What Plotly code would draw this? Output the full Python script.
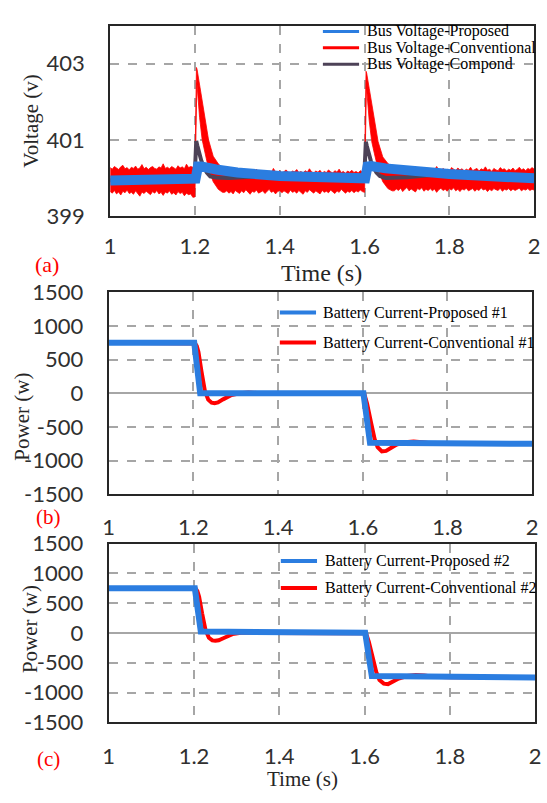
import numpy as np
import plotly.graph_objects as go

W, H = 547, 803

# ---------------- Panel (a): DC bus voltage ----------------
names_a = ["Bus Voltage-Proposed", "Bus Voltage-Conventional", "Bus Voltage-Compond"]

# Proposed controller (blue)
t_prop = [1.0, 1.1, 1.2, 1.2015, 1.207, 1.215, 1.25, 1.3, 1.4, 1.5, 1.6,
          1.6015, 1.607, 1.615, 1.65, 1.7, 1.8, 1.9, 2.0]
v_prop = [399.93, 399.95, 399.97, 399.98, 400.30, 400.30, 400.22, 400.14, 400.05,
          400.00, 399.98, 399.99, 400.30, 400.31, 400.25, 400.19, 400.10, 400.04, 399.99]

# Compound controller (dark)
t_comp = [1.0, 1.2, 1.2008, 1.203, 1.2055, 1.21, 1.215, 1.22, 1.228, 1.236, 1.25, 1.28,
          1.32, 1.36, 1.4, 1.5, 1.6, 1.6008, 1.603, 1.6055, 1.61, 1.615, 1.62, 1.628,
          1.636, 1.65, 1.7, 1.75, 1.8, 1.9, 2.0]
v_comp = [399.94, 399.96, 400.40, 400.97, 400.85, 400.62, 400.45, 400.30, 400.14, 400.04,
          400.01, 400.00, 400.02, 400.05, 400.03, 399.99, 399.97, 400.40, 400.95, 400.83,
          400.60, 400.44, 400.30, 400.14, 400.05, 400.00, 400.02, 400.07, 400.09, 400.03, 399.98]

# Conventional controller (red): ripple band given by its upper / lower envelope,
# sampled every 5 ms in the steady stretches
up_noise1 = [400.27, 400.23, 400.30, 400.25, 400.22, 400.29, 400.33, 400.24, 400.27, 400.21,
             400.28, 400.25, 400.31, 400.23, 400.26, 400.35, 400.24, 400.28, 400.22, 400.27,
             400.30, 400.25, 400.23, 400.29, 400.26, 400.37, 400.25, 400.28, 400.24, 400.30,
             400.27, 400.23, 400.32, 400.26, 400.29, 400.24, 400.36, 400.27, 400.30, 400.28]
lo_noise1 = [399.64, 399.60, 399.67, 399.58, 399.63, 399.55, 399.65, 399.61, 399.68, 399.59,
             399.62, 399.57, 399.66, 399.60, 399.52, 399.63, 399.59, 399.65, 399.61, 399.56,
             399.64, 399.60, 399.67, 399.58, 399.62, 399.54, 399.63, 399.60, 399.66, 399.57,
             399.61, 399.55, 399.64, 399.59, 399.62, 399.53, 399.60, 399.56, 399.58, 399.49]

t_up_step1 = [1.200, 1.2035, 1.205, 1.211, 1.217, 1.223, 1.232, 1.243, 1.255, 1.265]
v_up_step1 = [400.30, 402.90, 402.85, 402.44, 402.00, 401.58, 401.00, 400.57, 400.37, 400.26]
t_lo_step1 = [1.200, 1.201, 1.2045, 1.206, 1.211, 1.217, 1.223, 1.232, 1.243, 1.255, 1.265]
v_lo_step1 = [399.50, 400.30, 402.50, 402.20, 401.58, 401.00, 400.70, 400.24, 399.90, 399.70, 399.62]

up_noise2 = [400.22, 400.17, 400.20, 400.14, 400.18, 400.24, 400.15, 400.19, 400.13, 400.17,
             400.21, 400.15, 400.18, 400.12, 400.16, 400.23, 400.14, 400.17, 400.11, 400.19,
             400.15, 400.18, 400.13, 400.25, 400.16, 400.14, 400.19, 400.12, 400.17, 400.21,
             400.15, 400.13, 400.18, 400.16, 400.22, 400.14, 400.17, 400.12, 400.19, 400.15,
             400.24, 400.16, 400.13, 400.18, 400.15, 400.20, 400.12, 400.17, 400.14, 400.21,
             400.16, 400.13, 400.19, 400.15, 400.23, 400.14, 400.17, 400.12, 400.18, 400.15,
             400.20, 400.14, 400.17, 400.13, 400.19, 400.16]
lo_noise2 = [399.62, 399.66, 399.60, 399.64, 399.58, 399.67, 399.63, 399.59, 399.66, 399.61,
             399.69, 399.63, 399.57, 399.65, 399.62, 399.68, 399.60, 399.64, 399.66, 399.59,
             399.63, 399.70, 399.62, 399.65, 399.58, 399.64, 399.67, 399.61, 399.66, 399.63,
             399.59, 399.68, 399.62, 399.65, 399.60, 399.67, 399.63, 399.57, 399.66, 399.62,
             399.69, 399.64, 399.60, 399.66, 399.63, 399.58, 399.67, 399.62, 399.65, 399.61,
             399.68, 399.63, 399.59, 399.66, 399.62, 399.70, 399.64, 399.60, 399.65, 399.62,
             399.67, 399.61, 399.66, 399.63, 399.68, 399.64]

t_up_step2 = [1.600, 1.6035, 1.605, 1.611, 1.617, 1.623, 1.632, 1.643, 1.655, 1.665]
v_up_step2 = [400.22, 402.80, 402.75, 402.35, 401.92, 401.50, 400.95, 400.55, 400.38, 400.28]
t_lo_step2 = [1.600, 1.601, 1.6045, 1.606, 1.611, 1.617, 1.623, 1.632, 1.643, 1.655, 1.665]
v_lo_step2 = [399.62, 400.25, 402.40, 402.10, 401.50, 400.95, 400.65, 400.22, 399.90, 399.72, 399.66]

up_noise3 = [400.26, 400.20, 400.24, 400.18, 400.28, 400.21, 400.19, 400.25, 400.17, 400.23,
             400.29, 400.20, 400.22, 400.18, 400.27, 400.21, 400.24, 400.17, 400.23, 400.20,
             400.30, 400.21, 400.18, 400.25, 400.20, 400.23, 400.16, 400.27, 400.22, 400.19,
             400.26, 400.21, 400.24, 400.18, 400.23, 400.20, 400.28, 400.19, 400.22, 400.25,
             400.18, 400.24, 400.21, 400.29, 400.20, 400.23, 400.17, 400.25, 400.21, 400.19,
             400.27, 400.22, 400.24, 400.18, 400.23, 400.20, 400.26, 400.19, 400.22, 400.28,
             400.21, 400.24, 400.19, 400.25, 400.22, 400.27, 400.23]
lo_noise3 = [399.66, 399.71, 399.67, 399.73, 399.64, 399.70, 399.75, 399.66, 399.71, 399.68,
             399.63, 399.72, 399.69, 399.74, 399.65, 399.70, 399.67, 399.72, 399.66, 399.71,
             399.62, 399.69, 399.73, 399.67, 399.70, 399.65, 399.72, 399.68, 399.74, 399.66,
             399.70, 399.64, 399.71, 399.68, 399.73, 399.66, 399.69, 399.72, 399.65, 399.70,
             399.67, 399.74, 399.68, 399.71, 399.64, 399.70, 399.66, 399.72, 399.69, 399.67,
             399.73, 399.65, 399.70, 399.68, 399.72, 399.66, 399.71, 399.67, 399.69, 399.73,
             399.66, 399.70, 399.68, 399.72, 399.67, 399.70, 399.68]

# start time of each steady ripple stretch and its sample step (s)
noise_starts = [1.00, 1.27, 1.67]
noise_step = 0.005

# ---------------- Panels (b), (c): battery power ----------------
names_b = ["Battery Current-Proposed #1", "Battery Current-Conventional #1"]
names_c = ["Battery Current-Proposed #2", "Battery Current-Conventional #2"]

t_b_prop = [1.0, 1.202, 1.216, 1.4, 1.6, 1.6015, 1.617, 1.8, 2.0]
p_b_prop = [750, 750, 0, 0, 0, 0, -735, -745, -750]
t_b_conv = [1.0, 1.2, 1.204, 1.208, 1.212, 1.219, 1.227, 1.235, 1.243, 1.25, 1.258, 1.27,
            1.28, 1.29, 1.31, 1.33, 1.35, 1.38, 1.45, 1.55, 1.6, 1.604, 1.61, 1.62, 1.628,
            1.635, 1.645, 1.655, 1.665, 1.68, 1.7, 1.72, 1.74, 1.76, 1.8, 2.0]
p_b_conv = [750, 750, 740, 700, 610, 325, 40, -95, -140, -148, -135, -90,
            -55, -25, 0, 10, 5, -5, -10, -8, -5, -20, -150, -450, -680,
            -800, -862, -855, -815, -760, -725, -715, -725, -740, -750, -750]

t_c_prop = [1.0, 1.202, 1.216, 1.3, 1.4, 1.6, 1.6015, 1.617, 1.8, 2.0]
p_c_prop = [750, 750, 25, 20, 8, 3, 3, -722, -738, -748]
t_c_conv = [1.0, 1.2, 1.204, 1.208, 1.212, 1.219, 1.227, 1.235, 1.243, 1.25, 1.258, 1.27,
            1.28, 1.29, 1.31, 1.33, 1.35, 1.38, 1.45, 1.55, 1.6, 1.604, 1.61, 1.62, 1.628,
            1.635, 1.645, 1.655, 1.665, 1.68, 1.7, 1.72, 1.74, 1.76, 1.8, 2.0]
p_c_conv = [750, 750, 740, 700, 610, 330, 50, -80, -125, -132, -122, -85,
            -50, -20, 5, 15, 8, -2, -8, -6, -3, -20, -150, -450, -670,
            -790, -850, -858, -820, -765, -722, -705, -715, -735, -745, -748]

x_ticks = [1, 1.2, 1.4, 1.6, 1.8, 2]
x_tick_text = ["1", "1.2", "1.4", "1.6", "1.8", "2"]
v_ticks = [399, 401, 403]
p_ticks = [-1500, -1000, -500, 0, 500, 1000, 1500]
p_tick_text = ["-1500", "-1000", "-500", "0", "500", "1000", "1500"]

BLUE = "#2b7de0"
RED = "#ff0000"
DARK = "#4d4257"
GRID = "#a6a6a6"
AXIS = "#262626"
SERIF = "Liberation Serif"
SANS = "Lato"


def px(x):
    return x / W


def py(y):
    return 1 - y / H


def grid_times(start, values):
    return [round(start + noise_step * i, 4) for i in range(len(values))]


fig = go.Figure()

# red ripple band as a closed polygon: upper edge forward, lower edge backwards
t_up = (grid_times(noise_starts[0], up_noise1) + t_up_step1 +
        grid_times(noise_starts[1], up_noise2) + t_up_step2 +
        grid_times(noise_starts[2], up_noise3))
v_up = up_noise1 + v_up_step1 + up_noise2 + v_up_step2 + up_noise3
t_lo = (grid_times(noise_starts[0], lo_noise1) + t_lo_step1 +
        grid_times(noise_starts[1], lo_noise2) + t_lo_step2 +
        grid_times(noise_starts[2], lo_noise3))
v_lo = lo_noise1 + v_lo_step1 + lo_noise2 + v_lo_step2 + lo_noise3
fig.add_trace(go.Scatter(x=t_up + t_lo[::-1], y=v_up + v_lo[::-1], mode="lines",
                         fill="toself", fillcolor=RED, line=dict(color=RED, width=0.8),
                         name=names_a[1], xaxis="x", yaxis="y", showlegend=False))
fig.add_trace(go.Scatter(x=t_comp, y=v_comp, mode="lines", line=dict(color=DARK, width=4),
                         name=names_a[2], xaxis="x", yaxis="y", showlegend=False))
fig.add_trace(go.Scatter(x=t_prop, y=v_prop, mode="lines", line=dict(color=BLUE, width=10),
                         name=names_a[0], xaxis="x", yaxis="y", showlegend=False))

fig.add_trace(go.Scatter(x=t_b_conv, y=p_b_conv, mode="lines", line=dict(color=RED, width=4),
                         name=names_b[1], xaxis="x2", yaxis="y2", showlegend=False))
fig.add_trace(go.Scatter(x=t_b_prop, y=p_b_prop, mode="lines", line=dict(color=BLUE, width=6),
                         name=names_b[0], xaxis="x2", yaxis="y2", showlegend=False))

fig.add_trace(go.Scatter(x=t_c_conv, y=p_c_conv, mode="lines", line=dict(color=RED, width=4),
                         name=names_c[1], xaxis="x3", yaxis="y3", showlegend=False))
fig.add_trace(go.Scatter(x=t_c_prop, y=p_c_prop, mode="lines", line=dict(color=BLUE, width=6),
                         name=names_c[0], xaxis="x3", yaxis="y3", showlegend=False))


def xax(domain, anchor, standoff):
    return dict(domain=domain, anchor=anchor, range=[1, 2], tickvals=x_ticks,
                ticktext=x_tick_text, showgrid=True, gridcolor=GRID, gridwidth=1.5,
                griddash="dash", zeroline=False, showline=True, mirror=True,
                linecolor=AXIS, linewidth=2, ticks="", ticklabelstandoff=standoff,
                tickfont=dict(family=SANS, size=22, color="#303030"))


def yax(domain, anchor, rng, vals, text, zero):
    return dict(domain=domain, anchor=anchor, range=rng, tickvals=vals, ticktext=text,
                showgrid=True, gridcolor=GRID, gridwidth=1.5, griddash="dash",
                zeroline=zero, zerolinecolor=GRID, zerolinewidth=1.5,
                showline=True, mirror=True, linecolor=AXIS, linewidth=2, ticks="",
                ticklabelstandoff=19, tickfont=dict(family=SANS, size=22, color="#303030"))


fig.update_layout(
    width=W, height=H, margin=dict(l=0, r=0, t=0, b=0),
    paper_bgcolor="white", plot_bgcolor="white", showlegend=False,
    xaxis=xax([px(106.5), px(540)], "y", 10),
    yaxis=yax([py(209), py(12)], "x", [399, 404], v_ticks, [str(v) for v in v_ticks], False),
    xaxis2=xax([px(105), px(538)], "y2", 12),
    yaxis2=yax([py(497), py(288)], "x2", [-1500, 1500], p_ticks, p_tick_text, True),
    xaxis3=xax([px(105), px(541)], "y3", 13),
    yaxis3=yax([py(733), py(548)], "x3", [-1500, 1500], p_ticks, p_tick_text, True),
)

ann = []
shapes = []


def text(x, y, s, size, color=AXIS, angle=0, family=SERIF, xanchor="center"):
    ann.append(dict(x=px(x), y=py(y), xref="paper", yref="paper", text=s, showarrow=False,
                    textangle=angle, xanchor=xanchor, yanchor="middle",
                    font=dict(family=family, size=size, color=color)))


# axis titles and panel tags
text(26, 110, "Voltage (v)", 21, angle=-90)
text(323, 268, "Time (s)", 24)
text(42, 259, "(a)", 22, color=RED)
text(16, 417, "Power (w)", 21, angle=-90)
text(43, 521, "(b)", 21, color=RED)
text(24, 636, "Power (w)", 21, angle=-90)
text(43, 771, "(c)", 21, color=RED)
text(303, 792, "Time (s)", 21)


# legend keys
def key(x0, x1, xt, y, color, width, label):
    shapes.append(dict(type="line", xref="paper", yref="paper", x0=px(x0), x1=px(x1),
                       y0=py(y), y1=py(y), line=dict(color=color, width=width)))
    text(xt, y, label, 16, color="#000000", xanchor="left")


key(324, 361, 367, 18, BLUE, 3, names_a[0])
key(324, 361, 367, 35, RED, 3, names_a[1])
key(324, 361, 367, 52, DARK, 3, names_a[2])
key(280, 317, 322, 309, BLUE, 4, names_b[0])
key(280, 317, 322, 340, RED, 4, names_b[1])
key(281, 318, 324, 566, BLUE, 4, names_c[0])
key(281, 318, 324, 594, RED, 4, names_c[1])

fig.update_layout(annotations=ann, shapes=shapes)
fig.write_html("out.html", post_script="document.body.style.margin = '0';")
